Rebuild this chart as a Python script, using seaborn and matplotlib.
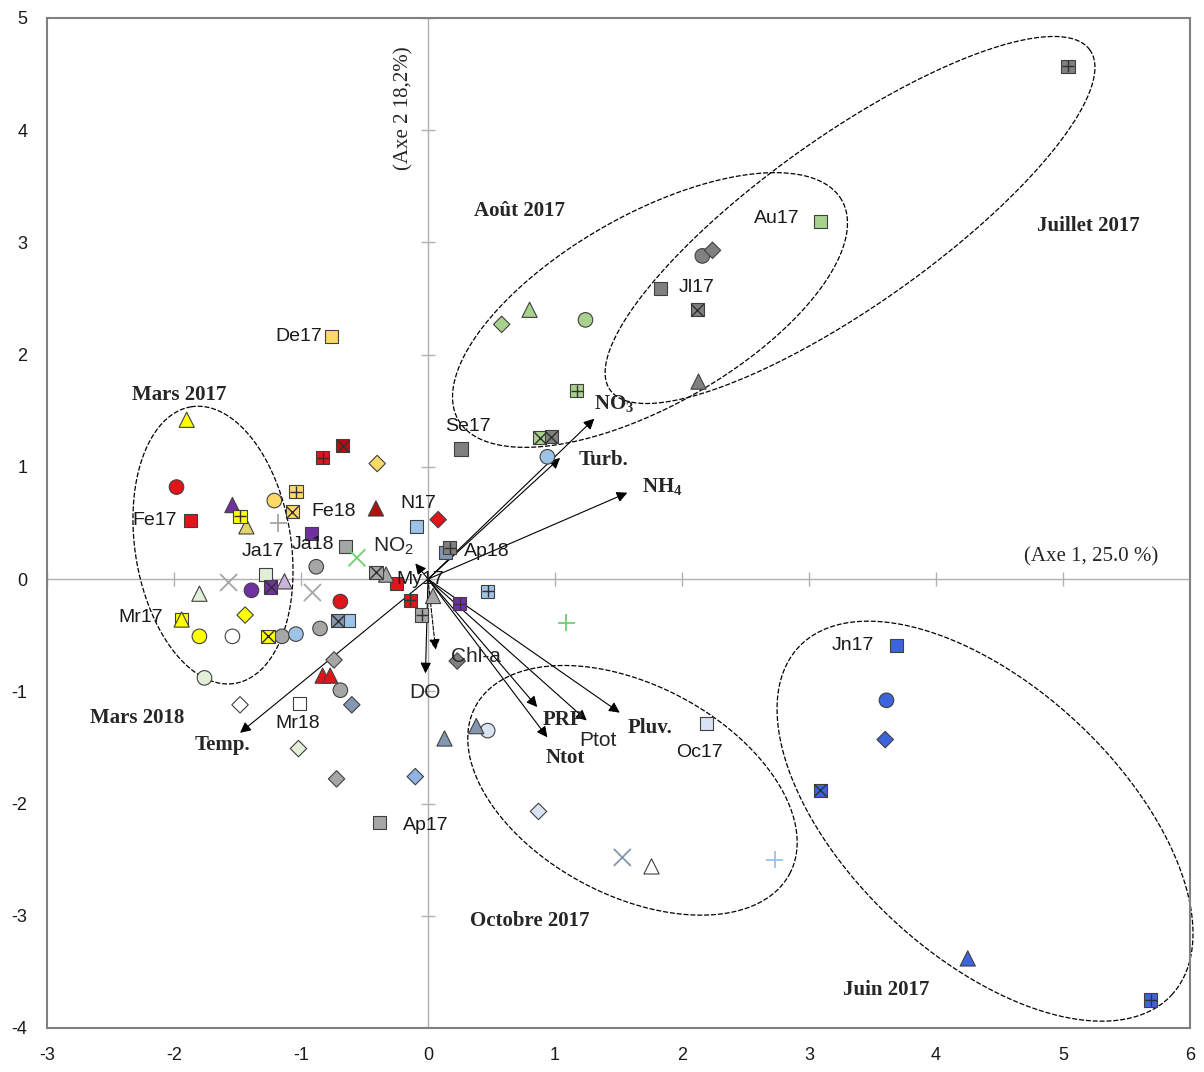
import numpy as np
import pandas as pd
import matplotlib
matplotlib.use('Agg')
import matplotlib.pyplot as plt
import seaborn as sns

# colours des mois / stations
COLS = {
    'R': '#e3131b', 'DR': '#b01010', 'Y': '#ffff00', 'KH': '#e2d46a',
    'LO': '#ffd966', 'PU': '#7030a0', 'G': '#a6a6a6', 'DG': '#808080',
    'LB': '#9dc3e6', 'BG': '#8497b0', 'LG': '#a9d18e', 'PG': '#e2f0d9',
    'XG': '#6fcf6f', 'BL': '#3d63dd', 'W': '#ffffff', 'VLB': '#dae3f3',
    'LIL': '#c9b3d9', 'SB': '#8fb4e3',
}

# coordonnées des prélèvements sur les axes 1 et 2
pt_x = [5.04, 3.09, 2.16, 2.24, 1.83, 2.12, 2.13, 0.58, 0.80, 1.24,
        1.17, 0.88, 0.97, 0.94, 0.26, -0.76, -1.90, -1.98, -1.87, -1.54,
        -1.48, -1.43, -1.21, -1.04, -1.07, -1.18, -0.92, -0.83, -0.67, -0.40,
        -0.41, 0.08, -0.09, -0.65, -0.88, -0.56, -0.41, -0.33, -0.25, -0.14,
        -0.05, 0.04, 0.17, 0.14, 0.47, 0.25, 1.09, -1.57, -1.28, -1.13,
        -1.39, -1.24, -1.80, -1.94, -1.94, -0.91, -1.44, -0.69, -1.80, -1.54,
        -1.26, -1.15, -1.04, -0.85, -0.71, -0.63, -0.74, -0.83, -0.77, -0.69,
        -0.60, -1.76, -1.48, -1.01, -1.02, -0.72, -0.10, -0.38, 0.23, 0.13,
        0.38, 0.47, 2.19, 0.87, 1.53, 1.76, 2.73, 3.69, 3.61, 3.60,
        3.09, 4.25, 5.69]
pt_y = [4.57, 3.19, 2.88, 2.93, 2.59, 2.40, 1.76, 2.27, 2.40, 2.31,
        1.68, 1.26, 1.27, 1.09, 1.16, 2.16, 1.42, 0.82, 0.52, 0.66,
        0.56, 0.47, 0.70, 0.78, 0.60, 0.50, 0.41, 1.08, 1.19, 1.03,
        0.63, 0.53, 0.47, 0.29, 0.11, 0.19, 0.06, 0.04, -0.04, -0.19,
        -0.32, -0.15, 0.28, 0.24, -0.11, -0.22, -0.39, -0.03, 0.04, -0.02,
        -0.10, -0.07, -0.13, -0.36, -0.36, -0.12, -0.32, -0.20, -0.51, -0.51,
        -0.51, -0.51, -0.49, -0.44, -0.37, -0.37, -0.72, -0.86, -0.86, -0.99,
        -1.12, -0.88, -1.12, -1.11, -1.51, -1.78, -1.76, -2.17, -0.73, -1.42,
        -1.31, -1.35, -1.29, -2.07, -2.48, -2.56, -2.50, -0.59, -1.08, -1.43,
        -1.88, -3.38, -3.75]
pt_shape = ['sp', 's', 'o', 'D', 's', 'sx', '^', 'D', '^', 'o',
            'sp', 'sx', 'sx', 'o', 's', 's', '^', 'o', 's', '^',
            'sp', '^', 'o', 'sp', 'sx', '+', 's', 'sp', 'sx', 'D',
            '^', 'D', 's', 's', 'o', 'x', 'sx', '^', 's', 'sp',
            'sp', '^', 'sp', 's', 'sp', 'sp', '+', 'x', 's', '^',
            'o', 'sx', '^', 's', '^', 'x', 'D', 'o', 'o', 'o',
            'sx', 'o', 'o', 'o', 'sx', 's', 'D', '^', '^', 'o',
            'D', 'o', 'D', 's', 'D', 'D', 'D', 's', 'D', '^',
            '^', 'o', 's', 'D', 'x', '^', '+', 's', 'o', 'D',
            'sx', '^', 'sp']
pt_col = ['DG', 'LG', 'DG', 'DG', 'DG', 'DG', 'DG', 'LG', 'LG', 'LG',
          'LG', 'LG', 'DG', 'LB', 'DG', 'LO', 'Y', 'R', 'R', 'PU',
          'Y', 'KH', 'LO', 'LO', 'LO', 'G', 'PU', 'R', 'DR', 'LO',
          'DR', 'R', 'LB', 'G', 'G', 'XG', 'G', 'G', 'R', 'R',
          'G', 'G', 'DG', 'BG', 'LB', 'PU', 'XG', 'G', 'PG', 'LIL',
          'PU', 'PU', 'PG', 'Y', 'Y', 'G', 'Y', 'R', 'Y', 'W',
          'Y', 'G', 'LB', 'G', 'BG', 'LB', 'G', 'R', 'R', 'G',
          'BG', 'PG', 'W', 'W', 'PG', 'G', 'SB', 'G', 'DG', 'BG',
          'BG', 'VLB', 'VLB', 'VLB', 'BG', 'W', 'LB', 'BL', 'BL', 'BL',
          'BL', 'BL', 'BL']

# étiquettes des stations (index du point)
lab_names = ['De17', 'Fe17', 'Fe18', 'Ja17', 'Ja18', 'N17', 'My17', 'Mr17', 'Se17',
             'Ap18', 'Mr18', 'Au17', 'Jl17', 'Jn17', 'Oc17', 'Ap17']
lab_pt = [15, 18, 24, 48, 33, 32, 38, 53, 14, 43, 73, 1, 4, 87, 82, 77]

# variables (cercle des corrélations)
var_names = [r'NO$_\mathbf{3}$', 'Turb.', r'NH$_\mathbf{4}$', r'NO$_\mathsf{2}$', 'Chl-a',
             'DO', 'PRP', 'Ntot', 'Ptot', 'Pluv.', 'Temp.']
var_x = [1.31, 1.04, 1.57, -0.10, 0.06, -0.02, 0.86, 0.94, 1.25, 1.51, -1.48]
var_y = [1.43, 1.08, 0.77, 0.14, -0.63, -0.84, -1.14, -1.41, -1.26, -1.19, -1.37]

# groupes (ellipses)
grp_names = ['Mars 2017', 'Août 2017', 'Juillet 2017', 'Octobre 2017', 'Juin 2017', 'Mars 2018']

df = pd.DataFrame({'x': pt_x, 'y': pt_y, 'shape': pt_shape,
                   'col': [COLS[c] for c in pt_col]})

sns.set_style('white')
plt.rcParams['font.family'] = ['Liberation Sans', 'DejaVu Sans']
plt.rcParams['axes.unicode_minus'] = False
plt.rcParams['mathtext.fontset'] = 'custom'
plt.rcParams['mathtext.bf'] = 'Liberation Serif:bold'
plt.rcParams['mathtext.sf'] = 'Liberation Sans'
plt.rcParams['mathtext.rm'] = 'Liberation Sans'

fig = plt.figure(figsize=(12.04, 10.72), dpi=100)
ax = fig.add_axes([47 / 1204, 1 - 1028 / 1072, (1190 - 47) / 1204, (1028 - 18) / 1072])
ax.set_xlim(-3, 6)
ax.set_ylim(-4, 5)

# axes du plan factoriel
ax.axhline(0, color='#b0b0b0', lw=1, zorder=0)
ax.axvline(0, color='#b0b0b0', lw=1, zorder=0)
ax.plot(range(-3, 7), [0] * 10, ls='none', marker='|', ms=10, color='#b0b0b0', zorder=0)
ax.plot([0] * 10, range(-4, 6), ls='none', marker='_', ms=10, color='#b0b0b0', zorder=0)

# ellipses (pixels -> unités)
kx, ky = 127.0, 112.2
ell = [(-1.693, 0.303, 140, 78, 98.9), (1.748, 2.398, 221, 95, 29.8),
       (3.323, 3.200, 294, 85, 35.3), (1.610, -1.882, 178, 105, -28),
       (4.386, -2.157, 255, 135, -43)]
t = np.linspace(0, 2 * np.pi, 300)
for cx, cy, a, b, th in ell:
    th = np.radians(th)
    ex = cx + (a * np.cos(t) * np.cos(th) - b * np.sin(t) * np.sin(th)) / kx
    ey = cy + (a * np.cos(t) * np.sin(th) + b * np.sin(t) * np.cos(th)) / ky
    ax.plot(ex, ey, color='black', lw=0.9, ls=(0, (4, 1.5)), zorder=1, clip_on=False)

# flèches des variables
for i, name in enumerate(var_names):
    ls = '--' if name == 'Chl-a' else '-'
    ax.annotate('', xy=(var_x[i], var_y[i]), xytext=(0, 0),
                arrowprops=dict(arrowstyle='-|>', color='black', lw=0.8, ls=ls,
                                mutation_scale=16, shrinkA=0, shrinkB=0), zorder=2)

# points
sizes = {'s': 90, 'o': 110, 'D': 70, '^': 120, 'sx': 90, 'sp': 90}
for shp in ['s', 'o', 'D', '^', 'sx', 'sp']:
    sub = df[df['shape'] == shp]
    m = 's' if shp in ('sx', 'sp') else shp
    pal = {c: c for c in sub['col'].unique()}
    sns.scatterplot(data=sub, x='x', y='y', hue='col', palette=pal, marker=m,
                    s=sizes[shp], edgecolor='#404040', linewidth=0.8, legend=False,
                    ax=ax, zorder=3)
    if shp in ('sx', 'sp'):
        ov = 'x' if shp == 'sx' else '+'
        ax.scatter(sub['x'], sub['y'], marker=ov, s=80, color='#303030', lw=1.0, zorder=4)
for shp in ['x', '+']:
    sub = df[df['shape'] == shp]
    pal = {c: c for c in sub['col'].unique()}
    sns.scatterplot(data=sub, x='x', y='y', hue='col', palette=pal, marker=shp,
                    s=150, linewidth=1.3, legend=False, ax=ax, zorder=3)

# étiquettes des stations
lab_off = [(-33, 0), (-36, 0), (42, 0), (-3, 23), (-33, 2), (2, 23), (24, 4), (-41, 2),
           (7, 22), (41, 1), (-2, -20), (-44, 3), (36, 1), (-44, 0), (-7, -29), (46, -3)]
for name, p, off in zip(lab_names, lab_pt, lab_off):
    ax.annotate(name, xy=(pt_x[p], pt_y[p]), xytext=off, textcoords='offset pixels',
                ha='center', va='center', fontsize=14, color='#1a1a1a', zorder=5)

# étiquettes des variables
serif_b = dict(family=['Liberation Serif', 'DejaVu Serif'], weight='bold', fontsize=15)
sans = dict(family=['Liberation Sans', 'DejaVu Sans'], fontsize=15)
var_off = [(20, 14), (43, -2), (35, 6), (-22, 17), (40, -7), (-1, -19), (26, -13),
           (18, -21), (11, -20), (30, -15), (-18, -12)]
var_font = [serif_b, serif_b, serif_b, sans, sans, sans, serif_b, serif_b, sans,
            serif_b, serif_b]
for i, name in enumerate(var_names):
    ax.annotate(name, xy=(var_x[i], var_y[i]), xytext=var_off[i], textcoords='offset pixels',
                ha='center', va='center', zorder=5, **var_font[i])

# noms des groupes
grp_x = [-1.96, 0.72, 5.2, 0.80, 3.61, -2.29]
grp_y = [1.64, 3.28, 3.15, -3.05, -3.66, -1.24]
for name, gx, gy in zip(grp_names, grp_x, grp_y):
    ax.text(gx, gy, name, ha='center', va='center', zorder=5, **serif_b)

# titres des axes
serif_r = dict(family=['Liberation Serif', 'DejaVu Serif'], fontsize=15)
ax.text(5.22, 0.2, '(Axe 1, 25.0 %)', ha='center', va='center', **serif_r)
ax.text(-0.19, 4.2, '(Axe 2 18,2%)', ha='center', va='center', rotation=90, **serif_r)

ax.set_xticks(range(-3, 7))
ax.set_yticks(range(-4, 6))
ax.tick_params(length=0, labelsize=13, pad=14, colors='#1a1a1a')
ax.set_xlabel('')
ax.set_ylabel('')
for sp in ax.spines.values():
    sp.set_color('#808080')
    sp.set_linewidth(1.5)

plt.savefig('out.png', dpi=100)
plt.close()
